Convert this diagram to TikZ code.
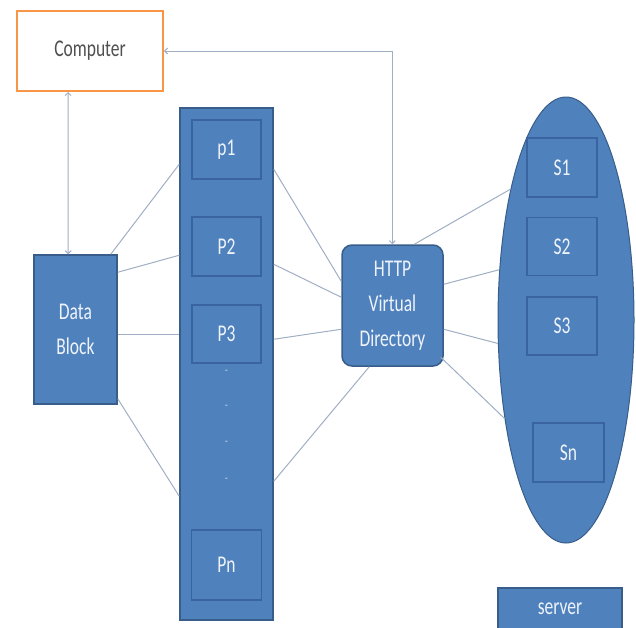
\documentclass[tikz,border=0pt]{standalone}
\usepackage{fontspec}
\setmainfont{Carlito}
\newfontfamily\tallfont[FakeStretch=0.73]{Carlito}
\usetikzlibrary{arrows.meta,calc,shapes.geometric}
\definecolor{boxblue}{HTML}{4F81BD}
\definecolor{boxedge}{HTML}{385D8A}
\definecolor{inneredge}{HTML}{3A64A0}
\definecolor{linkgray}{HTML}{A0AEC4}
\definecolor{orangeedge}{HTML}{F79646}
\definecolor{labelwhite}{HTML}{EEF3FA}
\begin{document}
\begin{tikzpicture}[x=1pt,y=-1pt,
  lbl/.style={font=\tallfont\fontsize{24}{35}\selectfont, text=labelwhite, align=center},
  bluebox/.style={draw=boxedge, line width=1.5pt, fill=boxblue, inner sep=0pt, lbl},
  innerbox/.style={draw=inneredge, line width=1.5pt, fill=boxblue, inner sep=0pt, lbl},
  link/.style={draw=linkgray, line width=1pt},
  tip/.style={link, {Straight Barb[length=3pt,width=6pt]}-{Straight Barb[length=3pt,width=6pt]}},
  dotmark/.style={text=labelwhite!85!boxblue, font=\normalsize, inner sep=0pt},
]
\useasboundingbox (0,0) rectangle (636,627);

% Computer
\node[draw=orangeedge, line width=1.8pt, fill=white, minimum width=146pt, minimum height=80pt,
      font=\tallfont\fontsize{24}{35}\selectfont, text={rgb,255:red,80;green,80;blue,80}] (comp) at (90,51) {Computer};

% Data block
\node[bluebox, minimum width=83pt, minimum height=149pt] (db) at (75.5,329.5) {Data\\Block};

% Process column
\node[bluebox, minimum width=93pt, minimum height=512pt] (col) at (226.5,364) {};
\node[innerbox, minimum width=69pt, minimum height=59pt] (p1) at (226.5,149.5) {p1};
\node[innerbox, minimum width=69pt, minimum height=59pt] (p2) at (226.5,246.5) {P2};
\node[innerbox, minimum width=69pt, minimum height=58pt] (p3) at (226.5,334) {P3};
\node[innerbox, minimum width=70pt, minimum height=70pt] (pn) at (226.5,565) {Pn};
\node[dotmark] (d1) at (226.5,372) {-};
\node[dotmark] (d2) at (226.5,407) {-};
\node[dotmark] (d3) at (226.5,443) {-};
\node[dotmark] (d4) at (226.5,480) {-};

% HTTP
\node[bluebox, rounded corners=10pt, minimum width=101pt, minimum height=121pt] (http) at (392.5,305.5) {HTTP\\Virtual\\Directory};

% Servers
\node[ellipse, draw=boxedge, line width=1pt, fill=boxblue, minimum width=136pt, minimum height=446pt, inner sep=0pt] (ell) at (566,320) {};
\node[innerbox, minimum width=70pt, minimum height=59pt] (s1) at (562,167.5) {S1};
\node[innerbox, minimum width=70pt, minimum height=58pt] (s2) at (562,246.5) {S2};
\node[innerbox, minimum width=70pt, minimum height=58pt] (s3) at (562,326) {S3};
\node[innerbox, minimum width=71pt, minimum height=59pt] (sn) at (568.5,452.5) {Sn};

% legend
\node[bluebox, minimum width=124pt, minimum height=42pt] (server) at (560,609) {server};

% Data block -> column
\draw[link] ($(db.north east)+(-7,0)$) -- ($(col.north west)+(0,57)$);
\draw[link] ($(db.north east)+(0,18)$) -- ($(col.north west)+(0,148)$);
\draw[link] ($(db.north east)+(0,80)$) -- ($(col.north west)+(0,227)$);
\draw[link] ($(db.south east)+(0,-6)$) -- ($(col.north west)+(0,389)$);

% column -> HTTP
\draw[link] ($(col.north east)+(0,62)$) -- ($(http.north west)+(0,37)$);
\draw[link] ($(col.north east)+(0,157)$) -- ($(http.north west)+(0,53)$);
\draw[link] ($(col.north east)+(0,232)$) -- ($(http.north west)+(0,85)$);
\draw[link] ($(col.north east)+(0,374)$) -- ($(http.south west)+(28,0)$);

% HTTP -> servers
\draw[link] ($(http.north west)+(73,0)$) -- (ell.113);
\draw[link] ($(http.north east)+(0,40)$) -- (ell.143);
\draw[link] ($(http.north east)+(0,85)$) -- (ell.199);
\draw[link] ($(http.north east)+(-3,113)$) -- (ell.238);

% arrows
\draw[tip] ($(comp.south west)+(52,0)$) -- ($(db.north west)+(35,0)$);
\draw[tip] ($(http.north west)+(51,0)$) |- (comp.east);
\end{tikzpicture}
\end{document}
